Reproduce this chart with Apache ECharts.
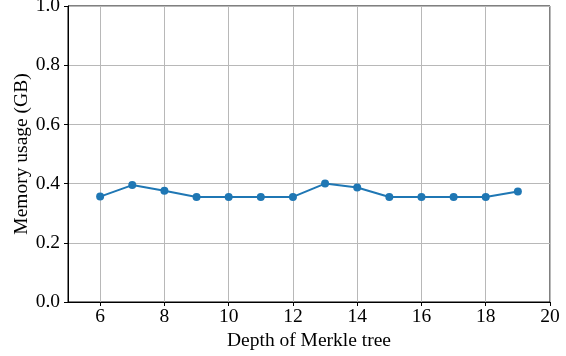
<!DOCTYPE html>
<html><head><meta charset="utf-8">
<script src="https://cdn.jsdelivr.net/npm/echarts@6/dist/echarts.min.js"></script>
<style>html,body{margin:0;padding:0;background:#fff}#c{width:566px;height:356px}</style>
</head><body><div id="c"></div>
<script>
const depths = [6,7,8,9,10,11,12,13,14,15,16,17,18,19];
const memoryGB = [0.356,0.395,0.376,0.355,0.355,0.355,0.355,0.400,0.387,0.355,0.355,0.355,0.355,0.373];
const xTicks = [6,8,10,12,14,16,18,20];
const yTicks = [0.0,0.2,0.4,0.6,0.8,1.0];
const font = 'Liberation Serif';
const fs = 19.5;
const chart = echarts.init(document.getElementById('c'), null, {renderer:'canvas'});
chart.setOption({
  animation:false,
  grid:{left:68,right:16,top:6,bottom:54,show:true,borderColor:'#000',borderWidth:1,backgroundColor:'transparent',
    containLabel:false,outerBoundsMode:'none'},
  xAxis:{type:'value',min:5,max:20,interval:1,
    name:'Depth of Merkle tree',nameLocation:'middle',nameGap:29,nameMoveOverlap:false,
    nameTextStyle:{fontFamily:font,fontSize:fs,color:'#000'},
    axisLine:{lineStyle:{color:'#000',width:1}},
    axisTick:{show:true,length:4,lineStyle:{color:'#000'},
      customValues:xTicks},
    axisLabel:{fontFamily:font,fontSize:fs,color:'#000',margin:5,
      customValues:xTicks,formatter:v=>String(v)},
    splitLine:{show:true,lineStyle:{color:'#b8b8b8',width:1}},
  },
  yAxis:{type:'value',min:0,max:1,interval:0.2,
    name:'Memory usage (GB)',nameLocation:'middle',nameGap:36,nameMoveOverlap:false,
    nameTextStyle:{fontFamily:font,fontSize:fs,color:'#000'},
    axisLine:{show:true,lineStyle:{color:'#000',width:1}},
    axisTick:{show:true,length:4,lineStyle:{color:'#000'}},
    axisLabel:{fontFamily:font,fontSize:fs,color:'#000',margin:8,formatter:v=>v.toFixed(1)},
    splitLine:{show:true,lineStyle:{color:'#b8b8b8',width:1}}
  },
  series:[{type:'line',data:depths.map((d,i)=>[d,memoryGB[i]]),
    symbol:'circle',symbolSize:8,
    lineStyle:{color:'#1f77b4',width:2},itemStyle:{color:'#1f77b4'}}]
});
</script></body></html>
